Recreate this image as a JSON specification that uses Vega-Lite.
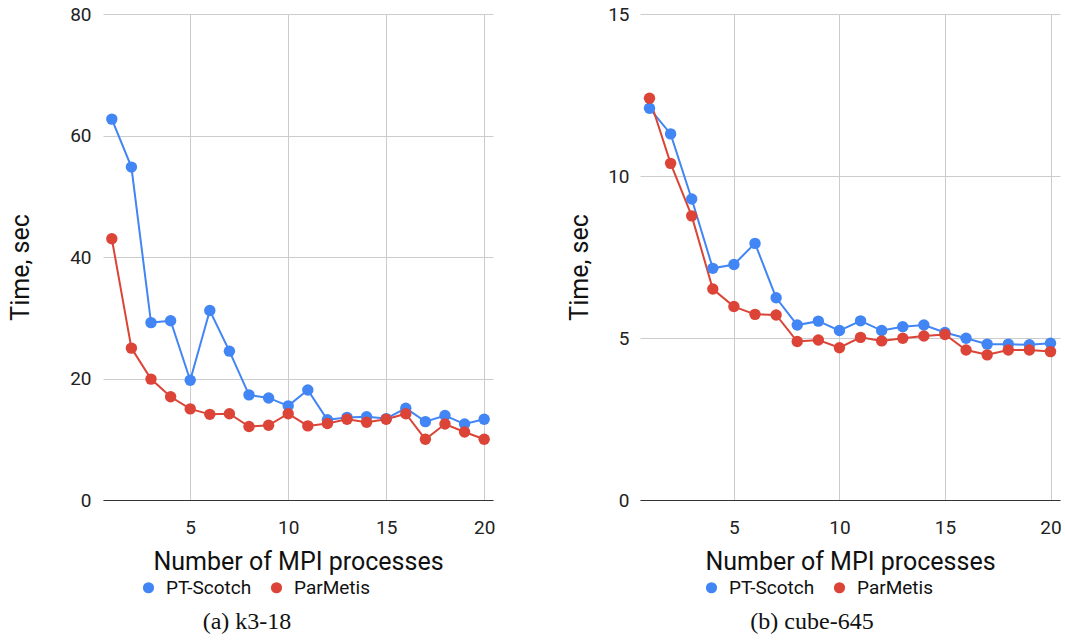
{
  "$schema": "https://vega.github.io/schema/vega-lite/v6.json",
  "background": "white",
  "padding": {"left": 8, "top": 5, "right": 0, "bottom": 0},
  "spacing": 72,
  "config": {
    "font": "Roboto",
    "view": {"stroke": null},
    "axis": {
      "gridColor": "#cccccc",
      "gridWidth": 1,
      "labelColor": "#222222",
      "titleColor": "#111111",
      "labelFontSize": 19,
      "titleFontSize": 25,
      "titleFontWeight": "normal",
      "ticks": false,
      "tickSize": 0,
      "domain": false
    },
    "legend": {
      "symbolType": "circle",
      "symbolSize": 125,
      "symbolStrokeWidth": 0,
      "labelFontSize": 19,
      "labelColor": "#111111",
      "labelOffset": 8,
      "columnPadding": 15
    },
    "title": {
      "orient": "bottom",
      "anchor": "middle",
      "font": "Liberation Serif",
      "fontSize": 24,
      "fontWeight": "normal",
      "color": "#111111"
    }
  },
  "data": {
    "values": [
      {"graph": "k3-18", "tool": "PT-Scotch", "procs": 1, "time": 62.7},
      {"graph": "k3-18", "tool": "PT-Scotch", "procs": 2, "time": 54.8},
      {"graph": "k3-18", "tool": "PT-Scotch", "procs": 3, "time": 29.2},
      {"graph": "k3-18", "tool": "PT-Scotch", "procs": 4, "time": 29.5},
      {"graph": "k3-18", "tool": "PT-Scotch", "procs": 5, "time": 19.7},
      {"graph": "k3-18", "tool": "PT-Scotch", "procs": 6, "time": 31.2},
      {"graph": "k3-18", "tool": "PT-Scotch", "procs": 7, "time": 24.5},
      {"graph": "k3-18", "tool": "PT-Scotch", "procs": 8, "time": 17.3},
      {"graph": "k3-18", "tool": "PT-Scotch", "procs": 9, "time": 16.8},
      {"graph": "k3-18", "tool": "PT-Scotch", "procs": 10, "time": 15.5},
      {"graph": "k3-18", "tool": "PT-Scotch", "procs": 11, "time": 18.1},
      {"graph": "k3-18", "tool": "PT-Scotch", "procs": 12, "time": 13.2},
      {"graph": "k3-18", "tool": "PT-Scotch", "procs": 13, "time": 13.6},
      {"graph": "k3-18", "tool": "PT-Scotch", "procs": 14, "time": 13.7},
      {"graph": "k3-18", "tool": "PT-Scotch", "procs": 15, "time": 13.4},
      {"graph": "k3-18", "tool": "PT-Scotch", "procs": 16, "time": 15.1},
      {"graph": "k3-18", "tool": "PT-Scotch", "procs": 17, "time": 12.9},
      {"graph": "k3-18", "tool": "PT-Scotch", "procs": 18, "time": 13.9},
      {"graph": "k3-18", "tool": "PT-Scotch", "procs": 19, "time": 12.5},
      {"graph": "k3-18", "tool": "PT-Scotch", "procs": 20, "time": 13.3},
      {"graph": "k3-18", "tool": "ParMetis", "procs": 1, "time": 43.0},
      {"graph": "k3-18", "tool": "ParMetis", "procs": 2, "time": 25.0},
      {"graph": "k3-18", "tool": "ParMetis", "procs": 3, "time": 19.9},
      {"graph": "k3-18", "tool": "ParMetis", "procs": 4, "time": 17.0},
      {"graph": "k3-18", "tool": "ParMetis", "procs": 5, "time": 15.0},
      {"graph": "k3-18", "tool": "ParMetis", "procs": 6, "time": 14.1},
      {"graph": "k3-18", "tool": "ParMetis", "procs": 7, "time": 14.2},
      {"graph": "k3-18", "tool": "ParMetis", "procs": 8, "time": 12.1},
      {"graph": "k3-18", "tool": "ParMetis", "procs": 9, "time": 12.3},
      {"graph": "k3-18", "tool": "ParMetis", "procs": 10, "time": 14.2},
      {"graph": "k3-18", "tool": "ParMetis", "procs": 11, "time": 12.2},
      {"graph": "k3-18", "tool": "ParMetis", "procs": 12, "time": 12.6},
      {"graph": "k3-18", "tool": "ParMetis", "procs": 13, "time": 13.3},
      {"graph": "k3-18", "tool": "ParMetis", "procs": 14, "time": 12.8},
      {"graph": "k3-18", "tool": "ParMetis", "procs": 15, "time": 13.3},
      {"graph": "k3-18", "tool": "ParMetis", "procs": 16, "time": 14.2},
      {"graph": "k3-18", "tool": "ParMetis", "procs": 17, "time": 10.0},
      {"graph": "k3-18", "tool": "ParMetis", "procs": 18, "time": 12.5},
      {"graph": "k3-18", "tool": "ParMetis", "procs": 19, "time": 11.2},
      {"graph": "k3-18", "tool": "ParMetis", "procs": 20, "time": 10.0},
      {"graph": "cube-645", "tool": "PT-Scotch", "procs": 1, "time": 12.09},
      {"graph": "cube-645", "tool": "PT-Scotch", "procs": 2, "time": 11.30},
      {"graph": "cube-645", "tool": "PT-Scotch", "procs": 3, "time": 9.29},
      {"graph": "cube-645", "tool": "PT-Scotch", "procs": 4, "time": 7.15},
      {"graph": "cube-645", "tool": "PT-Scotch", "procs": 5, "time": 7.27},
      {"graph": "cube-645", "tool": "PT-Scotch", "procs": 6, "time": 7.92},
      {"graph": "cube-645", "tool": "PT-Scotch", "procs": 7, "time": 6.24},
      {"graph": "cube-645", "tool": "PT-Scotch", "procs": 8, "time": 5.40},
      {"graph": "cube-645", "tool": "PT-Scotch", "procs": 9, "time": 5.52},
      {"graph": "cube-645", "tool": "PT-Scotch", "procs": 10, "time": 5.23},
      {"graph": "cube-645", "tool": "PT-Scotch", "procs": 11, "time": 5.53},
      {"graph": "cube-645", "tool": "PT-Scotch", "procs": 12, "time": 5.23},
      {"graph": "cube-645", "tool": "PT-Scotch", "procs": 13, "time": 5.35},
      {"graph": "cube-645", "tool": "PT-Scotch", "procs": 14, "time": 5.40},
      {"graph": "cube-645", "tool": "PT-Scotch", "procs": 15, "time": 5.17},
      {"graph": "cube-645", "tool": "PT-Scotch", "procs": 16, "time": 4.99},
      {"graph": "cube-645", "tool": "PT-Scotch", "procs": 17, "time": 4.81},
      {"graph": "cube-645", "tool": "PT-Scotch", "procs": 18, "time": 4.81},
      {"graph": "cube-645", "tool": "PT-Scotch", "procs": 19, "time": 4.79},
      {"graph": "cube-645", "tool": "PT-Scotch", "procs": 20, "time": 4.84},
      {"graph": "cube-645", "tool": "ParMetis", "procs": 1, "time": 12.40},
      {"graph": "cube-645", "tool": "ParMetis", "procs": 2, "time": 10.39},
      {"graph": "cube-645", "tool": "ParMetis", "procs": 3, "time": 8.77},
      {"graph": "cube-645", "tool": "ParMetis", "procs": 4, "time": 6.51},
      {"graph": "cube-645", "tool": "ParMetis", "procs": 5, "time": 5.97},
      {"graph": "cube-645", "tool": "ParMetis", "procs": 6, "time": 5.73},
      {"graph": "cube-645", "tool": "ParMetis", "procs": 7, "time": 5.71},
      {"graph": "cube-645", "tool": "ParMetis", "procs": 8, "time": 4.89},
      {"graph": "cube-645", "tool": "ParMetis", "procs": 9, "time": 4.94},
      {"graph": "cube-645", "tool": "ParMetis", "procs": 10, "time": 4.70},
      {"graph": "cube-645", "tool": "ParMetis", "procs": 11, "time": 5.02},
      {"graph": "cube-645", "tool": "ParMetis", "procs": 12, "time": 4.91},
      {"graph": "cube-645", "tool": "ParMetis", "procs": 13, "time": 4.99},
      {"graph": "cube-645", "tool": "ParMetis", "procs": 14, "time": 5.06},
      {"graph": "cube-645", "tool": "ParMetis", "procs": 15, "time": 5.11},
      {"graph": "cube-645", "tool": "ParMetis", "procs": 16, "time": 4.63},
      {"graph": "cube-645", "tool": "ParMetis", "procs": 17, "time": 4.48},
      {"graph": "cube-645", "tool": "ParMetis", "procs": 18, "time": 4.63},
      {"graph": "cube-645", "tool": "ParMetis", "procs": 19, "time": 4.63},
      {"graph": "cube-645", "tool": "ParMetis", "procs": 20, "time": 4.58}
    ]
  },
  "resolve": {
    "scale": {"x": "independent", "y": "independent", "color": "independent"},
    "legend": {"color": "independent"}
  },
  "hconcat": [
    {
      "width": 390,
      "height": 486,
      "title": {"text": "(a) k3-18", "dx": -51, "offset": 12},
      "transform": [{"filter": "datum.graph === 'k3-18'"}],
      "encoding": {
        "x": {
          "field": "procs",
          "type": "quantitative",
          "scale": {"domain": [0.55, 20.45], "nice": false, "zero": false},
          "axis": {
            "values": [5, 10, 15, 20],
            "title": "Number of MPI processes",
            "labelPadding": 18,
            "titlePadding": 12,
            "domain": true,
            "domainColor": "#333333",
            "domainWidth": 1
          }
        },
        "y": {
          "field": "time",
          "type": "quantitative",
          "scale": {"domain": [0, 80], "nice": false},
          "axis": {
            "values": [0, 20, 40, 60, 80],
            "title": "Time, sec",
            "titleY": 253,
            "labelPadding": 12,
            "titlePadding": 36
          }
        }
      },
      "layer": [
        {
          "mark": {"type": "line", "strokeWidth": 2},
          "encoding": {
            "detail": {"field": "tool", "type": "nominal"},
            "color": {
              "condition": {"test": "datum.tool === 'PT-Scotch'", "value": "#4285F4"},
              "value": "#DB4437"
            }
          }
        },
        {
          "mark": {"type": "point", "filled": true, "opacity": 1, "size": 130},
          "encoding": {
            "color": {
              "field": "tool",
              "type": "nominal",
              "scale": {"domain": ["PT-Scotch", "ParMetis"], "range": ["#4285F4", "#DB4437"]},
              "legend": {"orient": "none", "direction": "horizontal", "title": null, "legendX": 36, "legendY": 564}
            }
          }
        }
      ]
    },
    {
      "width": 420,
      "height": 486,
      "title": {"text": "(b) cube-645", "dx": -38, "offset": 12},
      "transform": [{"filter": "datum.graph === 'cube-645'"}],
      "encoding": {
        "x": {
          "field": "procs",
          "type": "quantitative",
          "scale": {"domain": [0.55, 20.45], "nice": false, "zero": false},
          "axis": {
            "values": [5, 10, 15, 20],
            "title": "Number of MPI processes",
            "labelPadding": 18,
            "titlePadding": 12,
            "domain": true,
            "domainColor": "#333333",
            "domainWidth": 1
          }
        },
        "y": {
          "field": "time",
          "type": "quantitative",
          "scale": {"domain": [0, 15], "nice": false},
          "axis": {
            "values": [0, 5, 10, 15],
            "title": "Time, sec",
            "titleY": 253,
            "labelPadding": 11,
            "titlePadding": 15
          }
        }
      },
      "layer": [
        {
          "mark": {"type": "line", "strokeWidth": 2},
          "encoding": {
            "detail": {"field": "tool", "type": "nominal"},
            "color": {
              "condition": {"test": "datum.tool === 'PT-Scotch'", "value": "#4285F4"},
              "value": "#DB4437"
            }
          }
        },
        {
          "mark": {"type": "point", "filled": true, "opacity": 1, "size": 130},
          "encoding": {
            "color": {
              "field": "tool",
              "type": "nominal",
              "scale": {"domain": ["PT-Scotch", "ParMetis"], "range": ["#4285F4", "#DB4437"]},
              "legend": {"orient": "none", "direction": "horizontal", "title": null, "legendX": 62, "legendY": 564}
            }
          }
        }
      ]
    }
  ]
}
